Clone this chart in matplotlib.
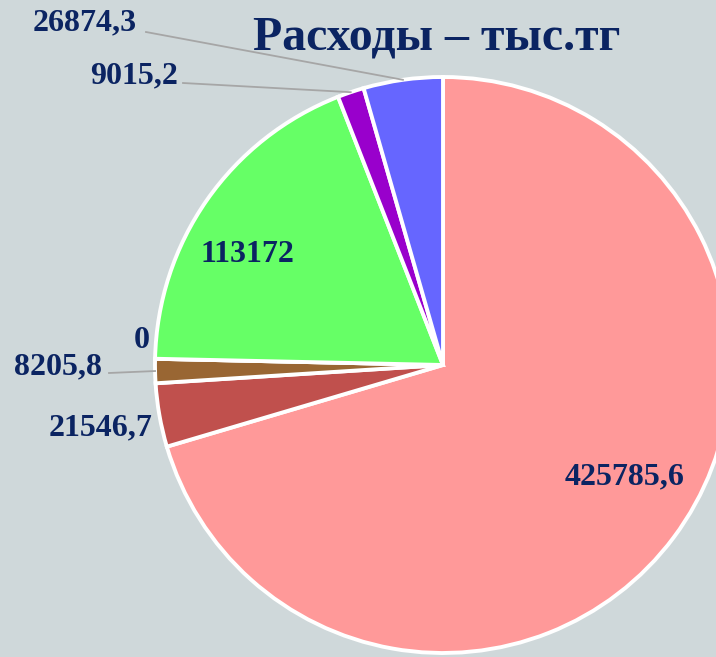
import numpy as np
import matplotlib

matplotlib.use("Agg")
import matplotlib.pyplot as plt

# expenses, thousand tenge (clockwise from 12 o'clock)
values = [425785.6, 21546.7, 8205.8, 0.0, 113172.0, 9015.2, 26874.3]
labels = ["425785,6", "21546,7", "8205,8", "0", "113172", "9015,2", "26874,3"]
colors = ["#ff9999", "#c0504d", "#996633", "#4f81bd", "#66ff66", "#9900cc", "#6666ff"]

W, H = 716, 657
BG = "#cfd8da"
NAVY = "#0b2462"
CX, CY, R = 443, 365, 288

# label anchor (pixels from top-left), alignment, leader line start or None
label_pos = {
    "425785,6": ((625, 477), "center", None),
    "21546,7": ((152, 428), "right", None),
    "8205,8": ((102, 367), "right", (109, 373)),
    "0": ((142, 340), "center", None),
    "113172": ((247, 255), "center", None),
    "9015,2": ((178, 76), "right", (183, 83)),
    "26874,3": ((137, 23), "right", (146, 32)),
}


def flip(x, y):
    return x, H - y


fig = plt.figure(figsize=(W / 100, H / 100), dpi=100, facecolor=BG)
ax = fig.add_axes([0, 0, 1, 1])
ax.set_xlim(0, W)
ax.set_ylim(0, H)
ax.set_aspect("equal")
ax.axis("off")

wedges, _ = ax.pie(
    values,
    colors=colors,
    startangle=90,
    counterclock=False,
    center=flip(CX, CY),
    radius=R,
    wedgeprops=dict(edgecolor="white", linewidth=2.8),
    frame=False,
)
ax.set_xlim(0, W)
ax.set_ylim(0, H)

font = dict(family="Liberation Serif", weight="bold", color=NAVY)

for w, lab in zip(wedges, labels):
    (x, y), ha, line_from = label_pos[lab]
    ax.text(*flip(x, y), lab, ha=ha, va="center", fontsize=23, **font)
    if line_from is not None:
        mid = np.deg2rad((w.theta1 + w.theta2) / 2)
        ex = w.center[0] + w.r * np.cos(mid)
        ey = w.center[1] + w.r * np.sin(mid)
        sx, sy = flip(*line_from)
        ax.plot([sx, ex], [sy, ey], color="#a6a6a6", lw=1.3, zorder=3)

ax.text(*flip(437, 38), "Расходы – тыс.тг", ha="center", va="center",
        fontsize=34.5, **font)

fig.savefig("out.png", dpi=100, facecolor=BG)
